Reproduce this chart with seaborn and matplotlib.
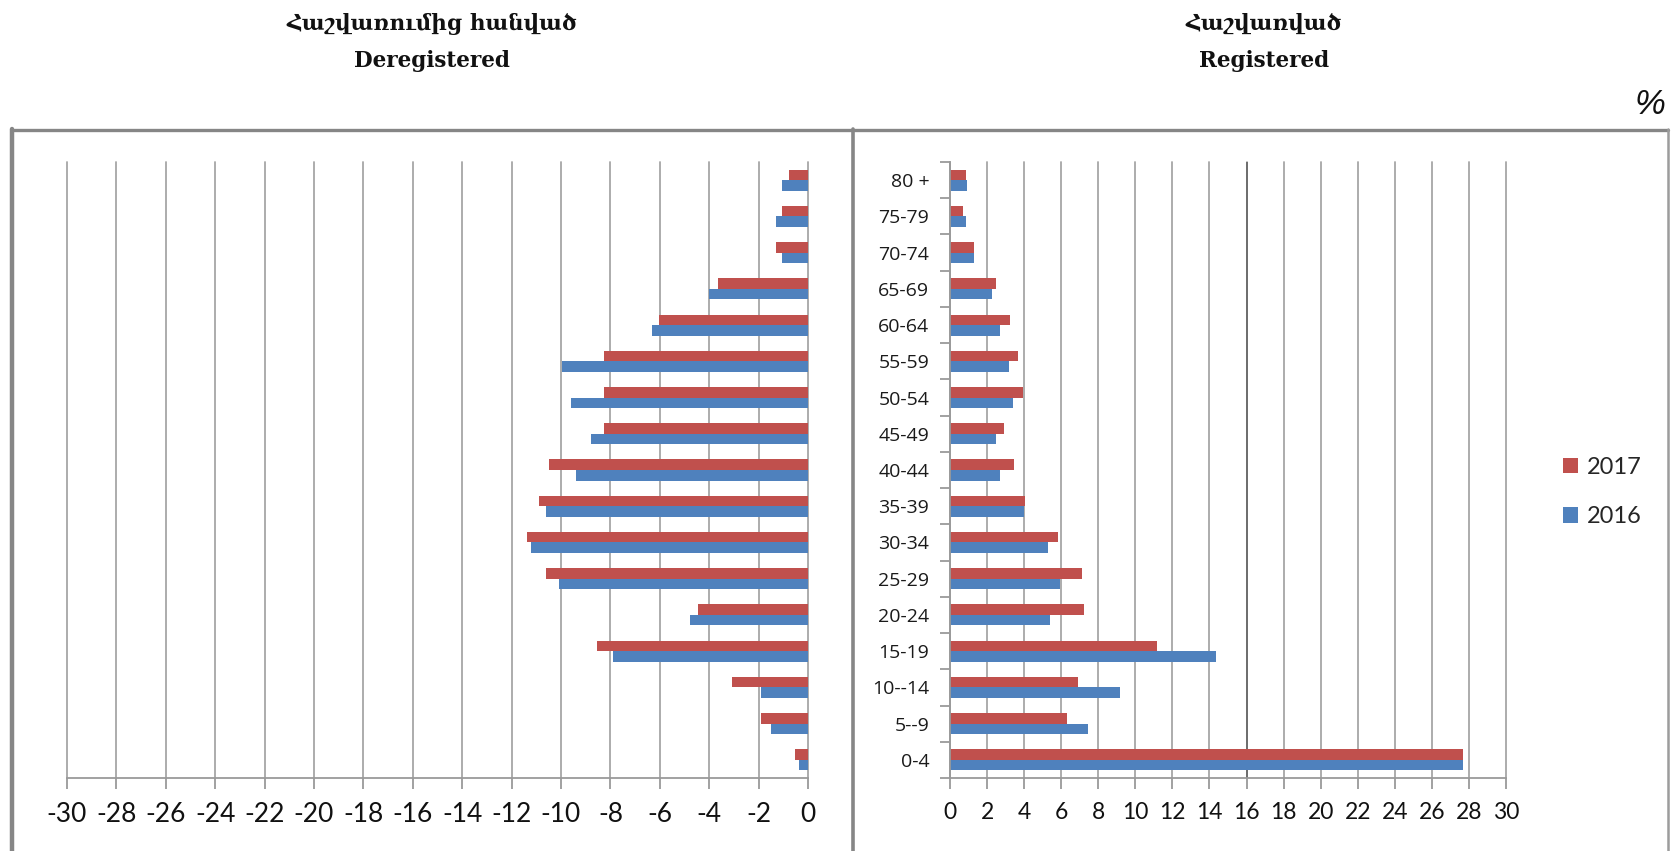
import numpy as np
import pandas as pd
import matplotlib
matplotlib.use('Agg')
import matplotlib.pyplot as plt
from matplotlib.lines import Line2D
from matplotlib.patches import Patch
import seaborn as sns

# age groups, top to bottom as in the chart
age_groups = ['80 +', '75-79', '70-74', '65-69', '60-64', '55-59', '50-54', '45-49', '40-44',
              '35-39', '30-34', '25-29', '20-24', '15-19', '10--14', '5--9', '0-4']
years = ['2017', '2016']

# deregistered, % (shown to the left)
dereg_2017 = [-0.77, -1.07, -1.30, -3.64, -6.04, -8.26, -8.26, -8.26, -10.49,
              -10.91, -11.37, -10.62, -4.46, -8.56, -3.07, -1.89, -0.54]
dereg_2016 = [-1.07, -1.30, -1.07, -4.02, -6.33, -9.97, -9.61, -8.79, -9.38,
              -10.62, -11.20, -10.09, -4.77, -7.91, -1.89, -1.49, -0.37]

# registered, %
reg_2017 = [0.84, 0.71, 1.32, 2.48, 3.25, 3.66, 3.95, 2.91, 3.45,
            4.02, 5.84, 7.14, 7.21, 11.16, 6.93, 6.30, 27.7]
reg_2016 = [0.91, 0.84, 1.32, 2.29, 2.70, 3.18, 3.38, 2.48, 2.70,
            3.98, 5.28, 5.95, 5.42, 14.35, 9.16, 7.42, 27.7]

left_ticks = list(range(-30, 1, 2))
right_ticks = list(range(0, 31, 2))

title_left = ['Հաշվառումից հանված', 'Deregistered']
title_right = ['Հաշվառված', 'Registered']

colors = {'2017': '#C0504D', '2016': '#4F81BD'}
grid_col = '#a6a6a6'
W, H = 1675, 851


def to_long(v2017, v2016):
    df = pd.DataFrame({'age': age_groups, '2017': v2017, '2016': v2016})
    return df.melt(id_vars='age', var_name='year', value_name='pct')


def fx(px):
    return px / W


def fy(py):
    return 1 - py / H


sns.set_style('white')
plt.rcParams['font.family'] = ['Lato', 'DejaVu Sans']

fig = plt.figure(figsize=(W / 100, H / 100), dpi=100)
ax_l = fig.add_axes([fx(67), fy(778), fx(808) - fx(67), fy(162) - fy(778)])
ax_r = fig.add_axes([fx(950), fy(778), fx(1506) - fx(950), fy(162) - fy(778)])

for ax, df in ((ax_l, to_long(dereg_2017, dereg_2016)), (ax_r, to_long(reg_2017, reg_2016))):
    sns.barplot(data=df, x='pct', y='age', hue='year', hue_order=years, order=age_groups,
                palette=colors, orient='h', width=0.58, saturation=1, errorbar=None,
                linewidth=0, legend=False, ax=ax)
    ax.set_xlabel('')
    ax.set_ylabel('')
    ax.set_axisbelow(True)
    ax.grid(axis='x', color=grid_col, linewidth=1.3)
    ax.grid(axis='y', visible=False)
    for sp in ('top', 'right', 'left', 'bottom'):
        ax.spines[sp].set_visible(False)
    ax.spines['bottom'].set_visible(True)
    ax.spines['bottom'].set_color('#9a9a9a')
    ax.spines['bottom'].set_linewidth(1.3)
    ax.tick_params(axis='x', which='major', direction='out', length=8, width=1.3,
                   color='#9a9a9a', bottom=True, pad=9, labelcolor='#111111')

# left panel
ax_l.set_xlim(-30, 0)
ax_l.set_xticks(left_ticks)
ax_l.set_xticklabels([str(t) for t in left_ticks], fontsize=19)
ax_l.set_yticks([])

# right panel
ax_r.set_xlim(0, 30)
ax_r.set_xticks(right_ticks)
ax_r.set_xticklabels([str(t) for t in right_ticks], fontsize=16.5)
ax_r.axvline(16, color='#6e6e6e', linewidth=1.4, zorder=0.8)
ax_r.spines['left'].set_visible(True)
ax_r.spines['left'].set_color('#9a9a9a')
ax_r.spines['left'].set_linewidth(1.3)
ax_r.set_yticks(np.arange(-0.5, len(age_groups), 1), minor=True)
ax_r.tick_params(axis='y', which='major', length=0, pad=15, left=True)
ax_r.tick_params(axis='y', which='minor', length=7, width=1.3, color='#9a9a9a', left=True)
for lab in ax_r.get_yticklabels():
    lab.set_fontfamily(['Open Sans', 'DejaVu Sans'])
    lab.set_fontsize(14)
    lab.set_color('#1a1a1a')

for ax in (ax_l, ax_r):
    for gl in ax.get_xgridlines():
        gl.set_clip_on(False)

# legend
handles = [Patch(facecolor=colors[y], edgecolor='none', label=y) for y in years]
fig.legend(handles=handles, loc='center left', bbox_to_anchor=(fx(1563), fy(492)),
           frameon=False, fontsize=17, borderpad=0, borderaxespad=0,
           handlelength=0.65, handleheight=0.65, handletextpad=0.35, labelspacing=1.2)

# titles
serif = ['DejaVu Serif', 'DejaVu Sans']
for cx, lines in ((432, title_left), (1264, title_right)):
    fig.text(fx(cx), fy(24), lines[0], ha='center', va='center', fontsize=15.5,
             fontweight='bold', family=serif, color='#111111')
    fig.text(fx(cx), fy(61), lines[1], ha='center', va='center', fontsize=15.5,
             fontweight='bold', family=serif, color='#111111')
fig.text(fx(1650), fy(104), '%', ha='center', va='center', fontsize=25,
         fontstyle='italic', family=['Liberation Sans'], color='#111111')

# panel frames
frame = '#868686'
fig.add_artist(Line2D([fx(12), fx(12)], [fy(129), fy(860)], color=frame, linewidth=3.2))
fig.add_artist(Line2D([fx(12), fx(1668)], [fy(130), fy(130)], color=frame, linewidth=2.4))
fig.add_artist(Line2D([fx(853), fx(853)], [fy(129), fy(860)], color=frame, linewidth=2.6))
fig.add_artist(Line2D([fx(1668), fx(1668)], [fy(129), fy(860)], color='#9c9c9c', linewidth=1.8))

fig.savefig('out.png', dpi=100)
